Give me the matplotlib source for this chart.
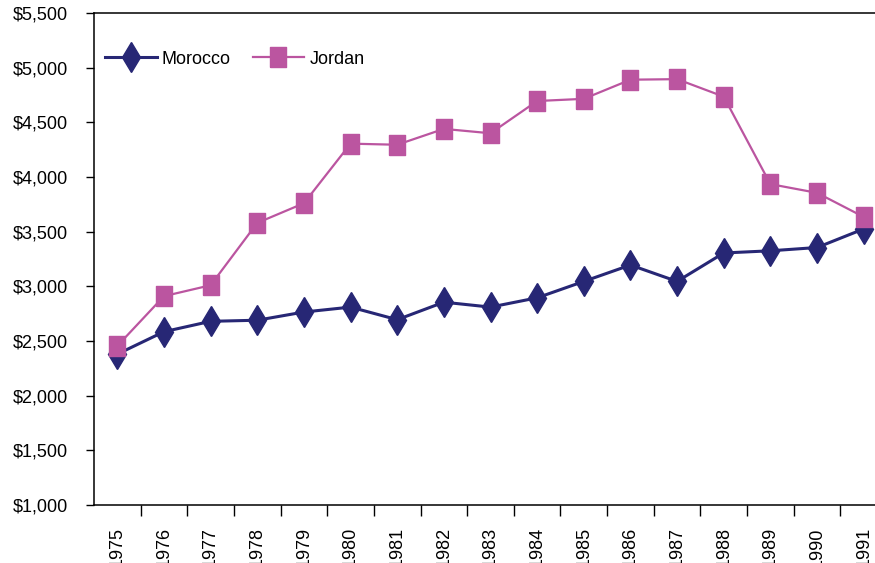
import matplotlib.pyplot as plt
import numpy as np

years = ['1975', '1976', '1977', '1978', '1979', '1980', '1981', '1982', '1983',
         '1984', '1985', '1986', '1987', '1988', '1989', '1990', '1991']
morocco = [2380, 2585, 2680, 2690, 2765, 2810, 2695, 2855, 2810,
           2895, 3045, 3195, 3045, 3305, 3325, 3355, 3525]
jordan = [2455, 2910, 3010, 3580, 3760, 4305, 4295, 4440, 4400,
          4695, 4715, 4890, 4895, 4735, 3935, 3855, 3635]

plt.rcParams['font.family'] = ['Liberation Sans', 'DejaVu Sans']
plt.rcParams['font.size'] = 13

fig = plt.figure(figsize=(8.75, 5.63), dpi=100)
ax = fig.add_axes([94 / 875, 58 / 563, 793 / 875, 492 / 563])

x = np.arange(len(years))
rect = [(-0.4, -0.5), (0.4, -0.5), (0.4, 0.5), (-0.4, 0.5), (-0.4, -0.5)]
ax.plot(x, morocco, color='#272775', lw=2.2, marker='d', ms=15,
        label='Morocco')
ax.plot(x, jordan, color='#bb55a0', lw=1.6, marker=rect, ms=14,
        label='Jordan')

ax.set_xlim(-0.5, len(years) - 0.5)
ax.set_ylim(1000, 5500)
ax.set_yticks(np.arange(1000, 5501, 500))
ax.yaxis.set_major_formatter(plt.FuncFormatter(lambda v, p: '${:,.0f}'.format(v)))
ax.tick_params(axis='y', direction='out', length=6, width=1, pad=12.5)

# ticks between categories, labels at the centers
ax.set_xticks(np.arange(0.5, len(years) - 1, 1))
ax.set_xticklabels([])
ax.tick_params(axis='x', which='major', direction='out', length=8, width=1)
ax.set_xticks(x, minor=True)
ax.set_xticklabels(years, minor=True, rotation=90)
ax.tick_params(axis='x', which='minor', length=0, pad=16)

for s in ax.spines.values():
    s.set_linewidth(1.1)

ax.legend(loc='center left', bbox_to_anchor=(0.014, 0.906), ncol=2,
          frameon=False, borderaxespad=0, borderpad=0, handlelength=2.85,
          handletextpad=0.3, columnspacing=1.2)

fig.savefig('out.png', dpi=100)
